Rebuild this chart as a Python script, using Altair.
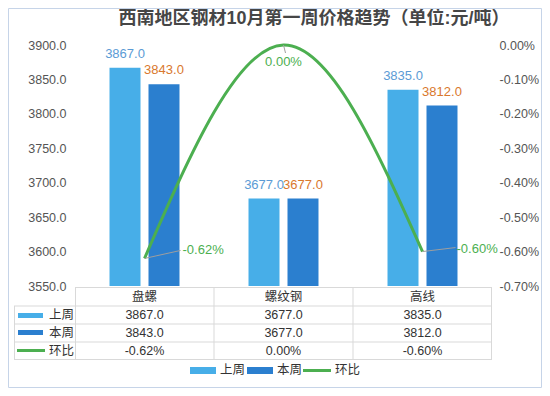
import altair as alt
import pandas as pd

# ---- data ----
cats = ["盘螺", "螺纹钢", "高线"]
series = ["上周", "本周"]
last_week = [3867.0, 3677.0, 3835.0]
this_week = [3843.0, 3677.0, 3812.0]
change = [-0.0062, 0.0, -0.0060]
title_text = "西南地区钢材10月第一周价格趋势（单位:元/吨）"

# ---- styles ----
FONT = "Liberation Sans, Noto Sans CJK SC, sans-serif"
C_LAST = "#47aee8"
C_THIS = "#2b7fcf"
C_LAST_LBL = "#5b9bd5"
C_THIS_LBL = "#d9782d"
GREEN = "#4caf50"
GRID = "#d9d9d9"
TXT = "#333333"
AX = "#555555"

W, H = 417, 241

bar_df = pd.DataFrame({
    "cat": cats * 2,
    "series": [series[0]] * 3 + [series[1]] * 3,
    "value": last_week + this_week,
})
line_df = pd.DataFrame({"cat": cats, "pct": change})
tab_df = pd.DataFrame({"cat": cats, "last": last_week, "this": this_week, "pct": change})
dummy = pd.DataFrame({"a": [0]})

x_bar = alt.X("cat:N", sort=cats,
              scale=alt.Scale(domain=cats, paddingInner=0, paddingOuter=0), axis=None)
x_off = alt.XOffset("series:N", sort=series,
                    scale=alt.Scale(domain=series, paddingInner=0.205, paddingOuter=0.885))
y_left = alt.Y("value:Q",
               scale=alt.Scale(domain=[3550, 3900], nice=False, zero=False),
               axis=alt.Axis(values=list(range(3550, 3901, 50)), format=".1f", grid=False,
                             domain=False, ticks=False, tickSize=0, labelPadding=9,
                             labelFontSize=12.5, labelColor=AX, labelFont=FONT, title=None))

bars = alt.Chart(bar_df).mark_bar(clip=True).encode(
    x=x_bar, xOffset=x_off, y=y_left,
    color=alt.Color("series:N", scale=alt.Scale(domain=series, range=[C_LAST, C_THIS]), legend=None),
)
bar_labels = alt.Chart(bar_df).mark_text(dy=-14, fontSize=13, font=FONT, baseline="middle").encode(
    x=x_bar, xOffset=x_off, y=y_left,
    text=alt.Text("value:Q", format=".1f"),
    color=alt.condition(alt.datum.series == series[0], alt.value(C_LAST_LBL), alt.value(C_THIS_LBL)),
)
bar_group = alt.layer(bars, bar_labels)

y_right = alt.Y("pct:Q",
                scale=alt.Scale(domain=[-0.007, 0], nice=False, zero=False),
                axis=alt.Axis(orient="right", values=[-0.007, -0.006, -0.005, -0.004, -0.003, -0.002, -0.001, 0],
                              format=".2%", labelExpr="replace(datum.label, '−', '-')",
                              grid=False, domain=False, ticks=False, tickSize=0, labelPadding=7,
                              labelFontSize=12.5, labelColor=AX, labelFont=FONT, title=None))

line = alt.Chart(line_df).mark_line(interpolate="natural", color=GREEN, strokeWidth=3).encode(
    x=x_bar, y=y_right)

lbl_cfg = [  # dx, dy, align, leader x2Offset, y2Offset
    (38, -8, "left", 36, -8),
    (0, 17, "center", 2, 8),
    (34, -3, "left", 33, -4),
]
line_layers = [line]
for i, (dx, dy, al, lx, ly) in enumerate(lbl_cfg):
    base = alt.Chart(line_df).transform_filter(alt.datum.cat == cats[i])
    line_layers.append(
        base.mark_rule(color="#9e9e9e", strokeWidth=1, x2Offset=lx, y2Offset=ly).encode(
            x=x_bar, x2="cat:N", y=y_right, y2="pct:Q"))
    line_layers.append(
        base.transform_calculate(lbl="replace(format(datum.pct, '.2%'), '−', '-')")
        .mark_text(dx=dx, dy=dy, align=al, baseline="middle", fontSize=13, font=FONT, color=GREEN)
        .encode(x=x_bar, y=y_right, text="lbl:N"))
line_group = alt.layer(*line_layers)

# ---- data table (columns on the same category scale) ----
tab_text = dict(fontSize=12.5, font=FONT, color=TXT, baseline="middle", align="center")
tab_layers = [
    alt.Chart(tab_df).mark_text(**tab_text).encode(x=x_bar, y=alt.value(252), text="cat:N"),
    alt.Chart(tab_df).mark_text(**tab_text).encode(x=x_bar, y=alt.value(270), text=alt.Text("last:Q", format=".1f")),
    alt.Chart(tab_df).mark_text(**tab_text).encode(x=x_bar, y=alt.value(288), text=alt.Text("this:Q", format=".1f")),
    alt.Chart(tab_df).transform_calculate(lbl="replace(format(datum.pct, '.2%'), '−', '-')")
    .mark_text(**tab_text).encode(x=x_bar, y=alt.value(306), text="lbl:N"),
]
tab_group = alt.layer(*tab_layers)


def hrule(y, x1, x2, color=GRID, w=1):
    return alt.Chart(dummy).mark_rule(color=color, strokeWidth=w).encode(
        x=alt.value(x1), x2=alt.value(x2), y=alt.value(y))


def vrule(x, y1, y2, color=GRID, w=1):
    return alt.Chart(dummy).mark_rule(color=color, strokeWidth=w).encode(
        x=alt.value(x), y=alt.value(y1), y2=alt.value(y2))


def box(x1, x2, y1, y2, color):
    return alt.Chart(dummy).mark_rect(color=color).encode(
        x=alt.value(x1), x2=alt.value(x2), y=alt.value(y1), y2=alt.value(y2))


def label(x, y, t, size=12.5, color=TXT, align="left", weight="normal"):
    return alt.Chart(dummy).mark_text(fontSize=size, font=FONT, color=color, align=align,
                                      baseline="middle", fontWeight=weight).encode(
        x=alt.value(x), y=alt.value(y), text=alt.value(t))


decor = [
    hrule(242.5, 0, 417), hrule(261, -61, 417), hrule(279, -61, 417),
    hrule(297, -61, 417), hrule(314.5, -61, 417),
    vrule(-60.5, 261, 314.5), vrule(0.5, 242.5, 314.5), vrule(139, 242.5, 314.5),
    vrule(278, 242.5, 314.5), vrule(416.5, 242.5, 314.5),
    # row headers
    box(-57, -32, 268, 273, C_LAST), label(-26, 270, series[0]),
    box(-57, -32, 285, 290, C_THIS), label(-26, 288, series[1]),
    hrule(305.5, -58, -30, GREEN, 3), label(-26, 306, "环比"),
    # legend
    box(115, 141, 322, 329, C_LAST), label(145, 325, series[0]),
    box(172, 198, 322, 329, C_THIS), label(202, 325, series[1]),
    hrule(325.5, 228, 256, GREEN, 3), label(260, 325, "环比"),
    # title
    label(239, -26, title_text, size=18, color="#464646", align="center", weight="bold"),
    # frame
    alt.Chart(dummy).mark_rect(fill="transparent", stroke="#c6d4e8", strokeWidth=1).encode(
        x=alt.value(-66.5), x2=alt.value(466.5), y=alt.value(-36.5), y2=alt.value(342.5)),
]

chart = alt.layer(bar_group, line_group, tab_group, *decor).resolve_scale(
    y="independent"
).properties(
    width=W, height=H,
    autosize=alt.AutoSizeParams(type="none"),
    padding={"left": 67, "top": 37, "right": 50, "bottom": 102},
    background="white",
).configure_view(stroke=None)

chart.save("out.html", embed_options={"renderer": "svg", "actions": False})
